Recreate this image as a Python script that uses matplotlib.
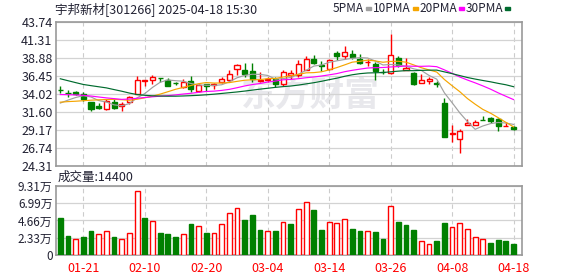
import matplotlib
matplotlib.use('Agg')
import matplotlib.pyplot as plt
from matplotlib.patches import Rectangle
import numpy as np

plt.rcParams['font.family'] = ['Noto Sans CJK SC', 'DejaVu Sans']

# --- data ---
dates = ['01-16', '01-17', '01-20', '01-21', '01-22', '01-23', '01-24', '01-27', '02-05', '02-06',
         '02-07', '02-10', '02-11', '02-12', '02-13', '02-14', '02-17', '02-18', '02-19', '02-20',
         '02-21', '02-24', '02-25', '02-26', '02-27', '02-28', '03-03', '03-04', '03-05', '03-06',
         '03-07', '03-10', '03-11', '03-12', '03-13', '03-14', '03-17', '03-18', '03-19', '03-20',
         '03-21', '03-24', '03-25', '03-26', '03-27', '03-28', '03-31', '04-01', '04-02', '04-03',
         '04-07', '04-08', '04-09', '04-10', '04-11', '04-14', '04-15', '04-16', '04-17', '04-18']

opens = [34.60, 34.15, 34.27, 34.04, 32.92, 32.37, 32.01, 32.92, 32.46, 32.92,
         34.04, 35.76, 35.85, 36.21, 35.85, 35.52, 34.95, 35.72, 34.41, 35.31,
         35.26, 35.63, 35.94, 37.43, 37.30, 37.07, 35.76, 35.85, 36.08, 35.40,
         36.62, 36.53, 37.30, 38.78, 37.97, 37.43, 39.60, 39.10, 39.37, 38.78,
         38.30, 38.10, 37.02, 36.89, 38.92, 37.25, 36.85, 35.49, 35.76, 35.45,
         32.78, 28.60, 27.96, 29.85, 29.90, 30.56, 30.80, 30.67, 29.67, 29.58]
closes = [34.55, 34.12, 34.04, 33.37, 32.01, 32.15, 33.14, 32.15, 32.69, 33.59,
          35.98, 35.98, 36.30, 36.18, 35.17, 35.49, 35.63, 34.73, 35.18, 35.04,
          35.31, 36.08, 36.76, 37.88, 36.67, 36.08, 35.94, 36.08, 35.40, 36.98,
          36.89, 38.10, 38.78, 38.20, 37.75, 38.65, 39.10, 39.69, 39.01, 38.20,
          38.40, 37.12, 36.98, 39.33, 37.88, 37.55, 35.40, 35.85, 35.99, 35.40,
          28.28, 28.73, 29.00, 30.08, 30.22, 30.50, 30.35, 29.76, 29.70, 29.27]
highs = [35.08, 34.58, 34.40, 34.27, 32.95, 32.78, 33.37, 33.37, 32.92, 33.82,
         36.52, 35.98, 36.61, 36.21, 36.21, 35.63, 36.08, 36.40, 35.40, 35.40,
         35.54, 36.30, 37.30, 38.10, 38.20, 38.20, 36.98, 36.30, 36.30, 37.20,
         37.20, 38.56, 39.10, 39.24, 38.47, 38.78, 39.77, 40.45, 40.00, 39.46,
         38.70, 38.33, 37.43, 42.17, 39.15, 38.92, 36.98, 36.76, 36.30, 35.76,
         33.51, 29.90, 29.30, 30.67, 30.53, 31.10, 30.98, 30.80, 30.22, 29.72]
lows = [34.18, 33.59, 33.90, 33.14, 31.79, 32.01, 31.92, 32.01, 31.79, 32.69,
        34.04, 35.08, 35.40, 35.62, 35.08, 35.18, 34.86, 34.27, 34.27, 34.41,
        34.73, 35.49, 35.63, 36.53, 36.30, 35.63, 35.63, 35.63, 34.95, 35.17,
        36.08, 36.30, 37.20, 38.10, 37.12, 37.30, 38.56, 38.78, 38.78, 38.10,
        37.80, 35.94, 36.67, 36.75, 37.66, 37.20, 35.18, 35.49, 35.40, 34.95,
        28.28, 27.60, 26.00, 29.85, 29.90, 30.50, 30.17, 29.10, 29.67, 29.18]

ma5 = [32.80, 33.20, 33.55, 33.80, 33.62, 33.14, 32.94, 32.56, 32.43, 32.74,
       33.51, 34.08, 34.91, 35.61, 35.92, 35.82, 35.75, 35.44, 35.24, 35.21,
       35.18, 35.27, 35.67, 36.21, 36.54, 36.69, 36.67, 36.53, 36.03, 36.10,
       36.26, 36.69, 37.23, 37.79, 37.94, 38.30, 38.50, 38.68, 38.84, 38.93,
       38.88, 38.48, 37.94, 38.01, 37.94, 37.77, 37.42, 37.20, 36.53, 36.03,
       34.18, 32.85, 31.48, 30.30, 29.26, 29.71, 30.03, 30.18, 30.11, 29.92]
ma10 = [32.92, 33.00, 33.05, 33.12, 33.19, 33.24, 33.28, 33.30, 33.25, 33.18,
        33.32, 33.51, 33.73, 34.01, 34.33, 34.66, 34.91, 35.17, 35.42, 35.57,
        35.50, 35.51, 35.56, 35.73, 35.88, 35.94, 35.97, 36.10, 36.12, 36.32,
        36.48, 36.68, 36.88, 36.91, 37.02, 37.28, 37.59, 37.95, 38.32, 38.44,
        38.59, 38.49, 38.31, 38.42, 38.44, 38.32, 37.95, 37.57, 37.27, 36.99,
        35.98, 35.14, 34.34, 33.41, 32.65, 31.95, 31.44, 30.83, 30.20, 29.59]
ma20 = [33.95, 33.93, 33.90, 33.85, 33.75, 33.62, 33.50, 33.40, 33.30, 33.35,
        33.45, 33.55, 33.65, 33.73, 33.80, 33.90, 34.02, 34.12, 34.25, 34.37,
        34.41, 34.51, 34.65, 34.87, 35.11, 35.30, 35.44, 35.64, 35.77, 35.94,
        35.99, 36.09, 36.22, 36.32, 36.45, 36.61, 36.78, 37.03, 37.22, 37.38,
        37.53, 37.58, 37.60, 37.67, 37.73, 37.80, 37.77, 37.76, 37.79, 37.71,
        37.28, 36.81, 36.32, 35.91, 35.53, 35.12, 34.68, 34.18, 33.72, 33.27]
ma30 = [36.08, 35.82, 35.56, 35.31, 35.15, 35.00, 34.85, 34.62, 34.40, 34.15,
        33.95, 33.85, 33.78, 33.75, 33.73, 33.73, 33.76, 33.80, 33.85, 33.92,
        34.00, 34.10, 34.20, 34.30, 34.42, 34.55, 34.68, 34.80, 34.92, 35.02,
        35.10, 35.23, 35.39, 35.55, 35.74, 35.96, 36.16, 36.41, 36.62, 36.77,
        36.86, 36.89, 36.92, 37.02, 37.11, 37.18, 37.17, 37.21, 37.24, 37.25,
        37.01, 36.77, 36.51, 36.25, 36.04, 35.85, 35.67, 35.46, 35.27, 35.01]

# volume in 万 (10k), red = 1 / green = 0 as coloured on the chart
volume = [4.99, 2.56, 2.11, 2.43, 3.24, 2.79, 3.19, 2.43, 2.11, 2.92,
          8.59, 4.99, 4.54, 2.97, 2.83, 2.43, 2.79, 4.18, 3.87, 2.97,
          2.92, 4.14, 5.62, 6.30, 4.72, 5.40, 3.37, 3.19, 3.24, 4.41,
          4.18, 6.16, 7.11, 6.07, 3.37, 4.41, 4.27, 4.81, 3.51, 3.24,
          3.19, 3.10, 2.16, 6.61, 4.45, 4.05, 3.37, 1.89, 1.48, 1.89,
          4.32, 3.73, 4.27, 3.46, 2.38, 2.11, 1.62, 2.02, 1.89, 1.44]
vol_up = [0, 0, 1, 0, 0, 1, 1, 0, 1, 1,
          1, 0, 1, 0, 0, 0, 1, 0, 1, 0,
          1, 1, 1, 1, 0, 0, 0, 1, 0, 1,
          0, 1, 1, 0, 0, 1, 1, 1, 0, 0,
          1, 0, 0, 1, 0, 0, 0, 1, 1, 0,
          0, 1, 1, 1, 1, 1, 0, 0, 0, 0]

price_ticks = [24.31, 26.74, 29.17, 31.60, 34.02, 36.45, 38.88, 41.31, 43.74]
vol_ticks = [0, 2.33, 4.66, 6.99, 9.31]
date_ticks = ['01-21', '02-10', '02-20', '03-04', '03-14', '03-26', '04-08', '04-18']

RED = '#ff0000'
GREEN = '#008000'
FRAME = '#999999'
GRID = '#d3d3d3'
TXT = '#222233'

W, H = 578, 276
fig = plt.figure(figsize=(W / 100, H / 100), dpi=100)
ax = fig.add_axes([56 / W, 110 / H, 466 / W, 144 / H])
axv = fig.add_axes([56 / W, 21 / H, 466 / W, 69 / H])

x = np.arange(len(dates))
tick_pos = [dates.index(d) for d in date_ticks]

for a in (ax, axv):
    a.set_xlim(-0.56, 60.1)
    for s in a.spines.values():
        s.set_color(FRAME)
        s.set_linewidth(1.2)
    a.set_xticks(tick_pos)
    a.grid(axis='x', color='#cccccc', linestyle=(0, (4, 3)), linewidth=0.8)
    a.grid(axis='y', color=GRID, linestyle='-', linewidth=0.9)
    a.set_axisbelow(True)
    a.tick_params(length=0, labelsize=9, labelcolor=TXT, pad=2.5)

# price panel
ax.set_ylim(price_ticks[0], price_ticks[-1])
ax.set_yticks(price_ticks)
ax.set_yticklabels(['%.2f' % v for v in price_ticks])
ax.tick_params(axis='x', labelbottom=False)

ax.text(0.545, 0.49, '东方财富', transform=ax.transAxes, ha='center', va='center',
        fontsize=25, fontweight='bold', color='#e8e8ec', zorder=0)

bw = 0.66
for i in x:
    o, c = opens[i], closes[i]
    col = RED if c >= o else GREEN
    ax.vlines(i, lows[i], highs[i], color=col, linewidth=1.0, zorder=2)
    bottom = min(o, c)
    h = max(abs(c - o), 0.03)
    ax.add_patch(Rectangle((i - bw / 2, bottom), bw, h,
                           facecolor='white' if c >= o else GREEN,
                           edgecolor=col, linewidth=1.0, zorder=3))

ax.plot(x, ma5, color='#a0a0a0', linewidth=0.85, zorder=4)
ax.plot(x, ma10, color='#f5a500', linewidth=0.85, zorder=4)
ax.plot(x, ma20, color='#ff00ff', linewidth=0.85, zorder=4)
ax.plot(x, ma30, color='#006b2e', linewidth=0.85, zorder=4)

# volume panel
axv.set_ylim(0, vol_ticks[-1])
axv.set_yticks(vol_ticks)
axv.set_yticklabels(['0'] + ['%.2f万' % v for v in vol_ticks[1:]])
axv.set_xticklabels(date_ticks)
axv.tick_params(axis='x', labelcolor=RED, pad=5)
axv.tick_params(axis='y', labelsize=8.5)
axv.bar(x, volume, width=0.62,
        color=['white' if u else GREEN for u in vol_up],
        edgecolor=[RED if u else GREEN for u in vol_up], linewidth=1.0, zorder=3)

# header texts
fig.text(55 / W, 1 - 9 / H, '宇邦新材[301266] 2025-04-18 15:30', fontsize=9,
         color=TXT, va='center', ha='left')
fig.text(58 / W, 1 - 177 / H, '成交量:%d' % round(volume[-1] * 10000), fontsize=9,
         color=TXT, va='center', ha='left')

legend = [('5PMA', '#a0a0a0', 366), ('10PMA', '#f5a500', 413),
          ('20PMA', '#ff00ff', 459), ('30PMA', '#006b2e', 505)]
for name, col, sx in legend:
    fig.text((sx - 2) / W, 1 - 9 / H, name, fontsize=8.5, color=TXT,
             va='center', ha='right')
    fig.patches.append(Rectangle((sx / W, 1 - 10 / H), 5 / W, 3 / H,
                                 transform=fig.transFigure, color=col))

fig.savefig('out.png', dpi=100)
